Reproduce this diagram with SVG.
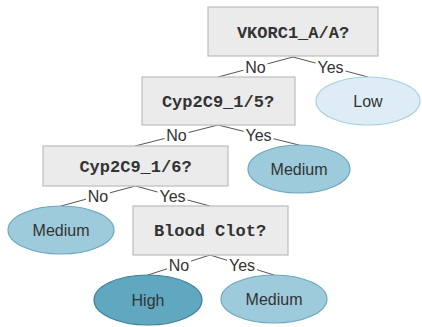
<svg xmlns="http://www.w3.org/2000/svg" width="422" height="327" viewBox="0 0 422 327">
<style>
.box{fill:#ebebeb;stroke:#bdbdbd;stroke-width:1.2}
.q{font-family:"Liberation Mono","Courier New",monospace;font-weight:bold;font-size:17px;fill:#333;text-anchor:middle}
.lbl{font-family:"Liberation Sans",Arial,sans-serif;font-size:16px;fill:#333;text-anchor:middle}
.low{fill:#deedf5;stroke:#a9cfe0;stroke-width:1.2}
.med{fill:#9ecbdb;stroke:#6ca8bd;stroke-width:1.2}
.high{fill:#60a7c0;stroke:#3f7f97;stroke-width:1.2}
.edge{stroke:#555;stroke-width:1;fill:none}
</style>
<rect width="422" height="327" fill="#fff"/>
<g id="connectors">
<path class="edge" d="M293,57 L267.5,63.8 M243.5,70.2 L218,77"/>
<path class="edge" d="M293,57 L315.5,63 M345.5,71 L368,77"/>
<path class="edge" d="M218,125 L188.5,132.5 M164.5,138.5 L135,146"/>
<path class="edge" d="M218,125 L243.5,131.3 M273.5,138.7 L299,145"/>
<path class="edge" d="M135.5,186 L110,192.8 M86,199.2 L61,206"/>
<path class="edge" d="M135.5,186 L157.5,192 M187.5,200 L210,206"/>
<path class="edge" d="M210,255 L191,261.1 M167,268.8 L148,275"/>
<path class="edge" d="M210,255 L227,260.3 M257,269.7 L274,275"/>
<text class="lbl" x="255.5" y="72.5">No</text>
<text class="lbl" x="330.5" y="72.5">Yes</text>
<text class="lbl" x="176.5" y="141">No</text>
<text class="lbl" x="258.5" y="140.5">Yes</text>
<text class="lbl" x="98" y="201.5">No</text>
<text class="lbl" x="172.5" y="201.5">Yes</text>
<text class="lbl" x="179" y="270.5">No</text>
<text class="lbl" x="242" y="270.5">Yes</text>
</g>
<g id="n-vkorc1">
<rect class="box" x="208" y="7" width="170" height="49"/>
<text class="q" x="293" y="37.5">VKORC1_A/A?</text>
</g>
<g id="n-low">
<ellipse class="low" cx="368" cy="101" rx="52" ry="24"/>
<text class="lbl" x="368" y="107">Low</text>
</g>
<g id="n-cyp15">
<rect class="box" x="142" y="77" width="153" height="48"/>
<text class="q" x="218" y="107">Cyp2C9_1/5?</text>
</g>
<g id="n-med1">
<ellipse class="med" cx="299" cy="169" rx="51" ry="24"/>
<text class="lbl" x="299" y="175">Medium</text>
</g>
<g id="n-cyp16">
<rect class="box" x="43" y="146" width="185" height="40"/>
<text class="q" x="135.5" y="172">Cyp2C9_1/6?</text>
</g>
<g id="n-med2">
<ellipse class="med" cx="61" cy="230" rx="53" ry="24"/>
<text class="lbl" x="61" y="236">Medium</text>
</g>
<g id="n-clot">
<rect class="box" x="133" y="206" width="155" height="49"/>
<text class="q" x="210" y="236">Blood Clot?</text>
</g>
<g id="n-high">
<ellipse class="high" cx="148" cy="300" rx="54" ry="25"/>
<text class="lbl" x="148" y="306">High</text>
</g>
<g id="n-med3">
<ellipse class="med" cx="274" cy="299" rx="53" ry="24"/>
<text class="lbl" x="274" y="305">Medium</text>
</g>
</svg>
